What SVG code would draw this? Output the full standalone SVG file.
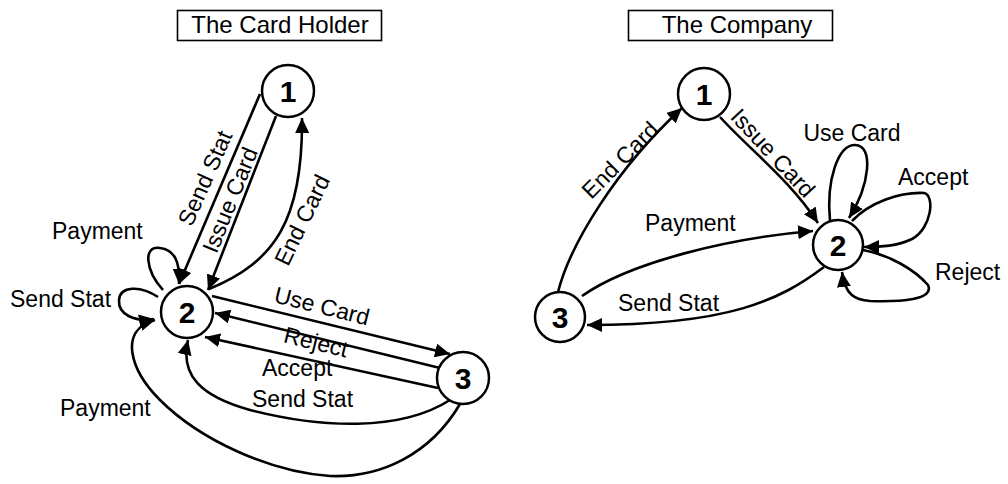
<svg xmlns="http://www.w3.org/2000/svg" width="1008" height="484" viewBox="0 0 1008 484">
<defs>
<marker id="arr" markerUnits="userSpaceOnUse" markerWidth="16" markerHeight="14" refX="15" refY="7" orient="auto">
<path d="M0,0 L15,7 L0,14 z" fill="#000"/>
</marker>
<style>
.lbl{font-family:"Liberation Sans",Arial,sans-serif;font-size:23px;fill:#000}
.ttl{font-family:"Liberation Sans",Arial,sans-serif;font-size:24px;fill:#000;text-anchor:middle}
.num{font-family:"Liberation Sans",Arial,sans-serif;font-size:30px;font-weight:bold;fill:#000;text-anchor:middle}
.node circle{fill:#fff;stroke:#000;stroke-width:2.5}
.edge{fill:none;stroke:#000;stroke-width:2.6;marker-end:url(#arr)}
.mid{text-anchor:middle}
</style>
</defs>
<rect width="1008" height="484" fill="#fff"/>

<g id="titles">
<rect x="177.5" y="10.5" width="204" height="30" fill="none" stroke="#000" stroke-width="1.6"/>
<text class="ttl" x="280" y="33">The Card Holder</text>
<rect x="628.5" y="10.5" width="204" height="30" fill="none" stroke="#000" stroke-width="1.6"/>
<text class="ttl" x="737" y="33">The Company</text>
</g>

<g id="connectors">
<!-- Card Holder -->
<path class="edge" d="M260,94 L179,284"/>
<path class="edge" d="M276,116 L208,290"/>
<path class="edge" d="M209,289 C275,262 303,220 302,118"/>
<path class="edge" d="M212,296 L450,354"/>
<path class="edge" d="M440,368 L215,313"/>
<path class="edge" d="M438,388 L205,337"/>
<path class="edge" d="M450,400 C400,432 320,428 250,410 C200,396 180,375 188,340"/>
<path class="edge" d="M460,404 C430,455 380,478 330,476 C270,472 200,440 160,400 C130,370 118,330 155,320"/>
<path class="edge" d="M158,297 C140,285 120,286 119,300 C118,315 135,322 154,319"/>
<path class="edge" d="M163,290 C145,270 143,245 160,248 C175,250 180,262 179,284"/>
<!-- Company -->
<path class="edge" d="M558,292 C570,245 615,170 682,108"/>
<path class="edge" d="M720,117 C750,150 790,180 818,223"/>
<path class="edge" d="M582,296 C630,262 730,238 813,231"/>
<path class="edge" d="M824,267 C780,300 730,325 587,325"/>
<path class="edge" d="M830,221 C826,180 838,145 855,145 C874,145 870,185 849,218"/>
<path class="edge" d="M852,221 C870,202 900,192 924,193 C935,195 932,228 912,239 C897,246 882,247 864,247"/>
<path class="edge" d="M863,250 C890,255 915,270 928,285 C935,300 900,302 870,301 C855,300 845,295 842,272"/>
</g>

<g id="labels">
<text class="lbl" x="52" y="239">Payment</text>
<text class="lbl" x="10" y="307">Send Stat</text>
<text class="lbl mid" transform="translate(322,306) rotate(14)" y="8">Use Card</text>
<text class="lbl mid" transform="translate(316,342) rotate(14)" y="8">Reject</text>
<text class="lbl" x="262" y="376">Accept</text>
<text class="lbl" x="252" y="407">Send Stat</text>
<text class="lbl" x="60" y="416">Payment</text>
<text class="lbl mid" transform="translate(205,178) rotate(-66)" y="8">Send Stat</text>
<text class="lbl mid" transform="translate(230,200) rotate(-68)" y="8">Issue Card</text>
<text class="lbl mid" transform="translate(302,220) rotate(-64)" y="8">End Card</text>

<text class="lbl mid" x="852" y="141">Use Card</text>
<text class="lbl" x="898" y="185">Accept</text>
<text class="lbl" x="935" y="280">Reject</text>
<text class="lbl" x="645" y="231">Payment</text>
<text class="lbl" x="618" y="311">Send Stat</text>
<text class="lbl mid" transform="translate(620,160) rotate(-45)" y="8">End Card</text>
<text class="lbl mid" transform="translate(773,153) rotate(47)" y="8">Issue Card</text>
</g>

<g id="ch-node1" class="node"><circle cx="288" cy="91" r="26"/><text class="num" x="288" y="102">1</text></g>
<g id="ch-node2" class="node"><circle cx="187" cy="312" r="26"/><text class="num" x="187" y="323">2</text></g>
<g id="ch-node3" class="node"><circle cx="463" cy="378" r="26"/><text class="num" x="463" y="389">3</text></g>
<g id="co-node1" class="node"><circle cx="704" cy="94" r="26"/><text class="num" x="704" y="105">1</text></g>
<g id="co-node2" class="node"><circle cx="838" cy="245" r="25"/><text class="num" x="838" y="256">2</text></g>
<g id="co-node3" class="node"><circle cx="560" cy="317" r="25"/><text class="num" x="560" y="328">3</text></g>
</svg>
